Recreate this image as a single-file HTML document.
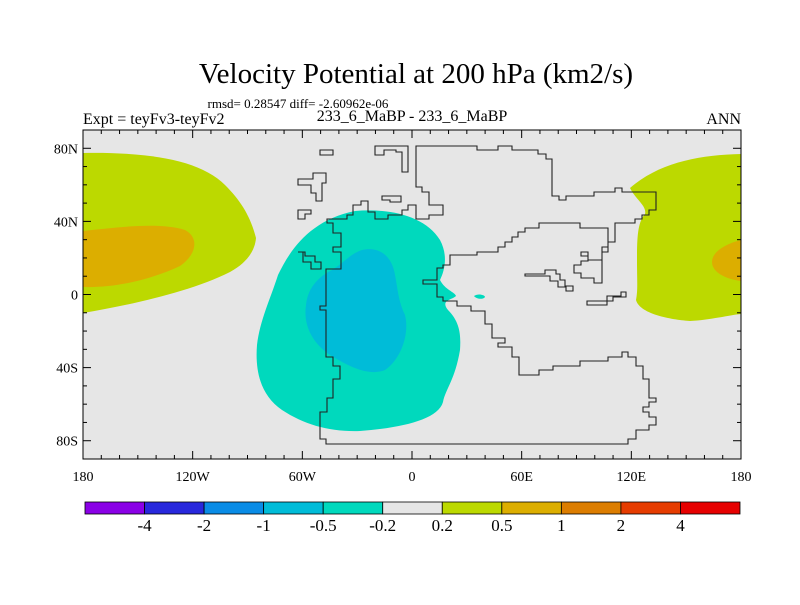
<!DOCTYPE html>
<html><head><meta charset="utf-8"><style>
body{margin:0;background:#fff;width:800px;height:600px;overflow:hidden}
svg text{font-family:"Liberation Serif",serif;fill:#000}
</style></head><body>
<svg id="chart" width="800" height="600" viewBox="0 0 800 600">
<text x="416" y="83" font-size="29" text-anchor="middle">Velocity Potential at 200 hPa (km2/s)</text>
<text x="298" y="108" font-size="13" text-anchor="middle">rmsd= 0.28547 diff= -2.60962e-06</text>
<text x="83" y="124" font-size="16">Expt = teyFv3-teyFv2</text>
<text x="412" y="121" font-size="16" text-anchor="middle">233_6_MaBP - 233_6_MaBP</text>
<text x="741" y="124" font-size="16" text-anchor="end">ANN</text>
<g>
<rect x="83" y="130" width="658" height="329" fill="#e6e6e6"/>
<clipPath id="mc"><rect x="83" y="130" width="658" height="329"/></clipPath>
<g clip-path="url(#mc)">
<path fill="#bcd900" d="M83,153 C150,152 200,160 225,185 C240,200 250,215 256,238 C255,250 248,262 230,272 C190,292 130,305 83,313 Z"/>
<path fill="#dcae00" d="M83,231 C120,227 160,222 185,230 C200,238 196,255 180,266 C150,280 115,288 83,287 Z"/>
<path fill="#bcd900" d="M741,154 C700,155 660,162 630,188 C636,200 647,206 645,214 C638,222 637,235 637,260 C637,280 638,290 636,300 C640,315 675,320 690,321 C710,320 730,315 741,314 Z"/>
<path fill="#dcae00" d="M741,240 C725,244 712,252 712,262 C712,272 725,279 741,281 Z"/>
<path fill="#00d9bd" d="M355,211 C390,208 425,216 440,240 C448,255 445,270 440,280 C445,290 455,292 456,296 C452,300 440,300 448,310 C460,322 461,335 460,350 C455,380 445,390 443,402 C438,420 400,428 360,431 C330,432 305,425 282,410 C260,395 255,370 257,345 C260,320 270,300 278,275 C290,250 310,220 355,211 Z"/>
<path fill="#00d9bd" d="M474,296 C478,293 485,295 485,297 C483,300 476,299 474,296 Z"/>
<path fill="#00bcd8" d="M362,250 C378,246 392,255 395,275 C398,290 398,300 405,315 C410,335 400,360 385,370 C370,376 352,368 335,358 C312,345 303,325 306,305 C308,285 322,275 332,270 C345,262 350,254 362,250 Z"/>
<g fill="none" stroke="#222" stroke-width="1.1">
<path d="M416,146 H477 V150 H498 V146 H512 V150 H538 V154 H546 V159 H552 V196 H559 V200 H566 V196 H594 V192 H615 V188 H622 V192 H656 V210 H649 V215 H642 V219 H635 V223 H615 V242 H608 V252 H602 V260 H588 V252 H581 V256 H588 V261 H581 V265 H574 V273 H581 V278 H594 V283 H602 V247 H608 V228 H580 V223 H539 V228 H525 V232 H518 V237 H512 V242 H505 V247 H498 V252 H477 V255 H450 V265 H443 V268 H437 V280 H423 V284 H437 V297 H443 V301 H457 V306 H471 V311 H485 V324 H492 V338 H505 V343 H498 V347 H512 V357 H519 V375 H539 V370 H553 V366 H580 V361 H608 V357 H622 V352 H628 V357 H636 V366 H643 V379 H649 V398 H656 V402 H649 V407 H643 V412 H649 V417 H656 V425 H649 V430 H636 V439 H628 V444 H326 V439 H320 V412 H327 V398 H333 V379 H340 V366 H333 V357 H326 V310 H320 V306 H326 V269 H341 V252 H333 V247 H341 V233 H333 V223 H327 V219 H347 V215 H353 V205 H361 V201 H368 V212 H375 V219 H388 V215 H402 V210 H408 V205 H416 V219 H429 V215 H443 V205 H429 V192 H422 V187 H416 Z"/>
<path d="M298,252 H303 V262 H311 V269 H321 V262 H315 V256 H305 V252 Z"/>
<path d="M320,150 H333 V155 H320 Z"/>
<path d="M375,146 H408 V172 H402 V152 H396 V150 H384 V155 H375 Z"/>
<path d="M298,179 H313 V173 H326 V183 H322 V201 H316 V193 H311 V185 H298 Z"/>
<path d="M298,210 H311 V214 H305 V219 H298 Z"/>
<path d="M382,196 H401 V202 H390 V200 H382 Z"/>
<path d="M525,274 H545 V270 H556 V274 H560 V280 H565 V286 H573 V291 H566 V287 H558 V281 H550 V276 H525 Z"/>
<path d="M587,301 H607 V296 H621 V292 H626 V297 H613 V301 H607 V305 H587 Z"/>
</g>
</g>
<rect x="83" y="130" width="658" height="329" fill="none" stroke="#000" stroke-width="1"/>
<g id="ticks" stroke="#000" stroke-width="1"></g>
<g id="ticklabels" font-size="14"></g>
</g>
<g id="colorbar"></g>
</svg>
<script>
const cbColors=["#8a00e6","#2828dc","#0a8ce6","#00bcd8","#00d9bd","#e6e6e6","#bcd900","#dcae00","#dc7d00","#e63c00","#e60000"];
const cbLabels=["-4","-2","-1","-0.5","-0.2","0.2","0.5","1","2","4"];
const lonTicks=[-180,-120,-60,0,60,120,180];
const lonTickLabels=["180","120W","60W","0","60E","120E","180"];
const latTicks=[80,40,0,-40,-80];
const latTickLabels=["80N","40N","0","40S","80S"];
const NS='http://www.w3.org/2000/svg';
const x0=83,x1=741,y0=130,y1=459;
function lx(lon){return x0+(lon+180)/360*(x1-x0);}
function ly(lat){return y0+(90-lat)/180*(y1-y0);}
function mk(tag,attrs,parent){const e=document.createElementNS(NS,tag);for(const k in attrs)e.setAttribute(k,attrs[k]);parent.appendChild(e);return e;}
const tg=document.getElementById('ticks'),tl=document.getElementById('ticklabels');
for(let lon=-180;lon<=180;lon+=10){const X=lx(lon);const len=lon%60===0?8:4;
 const a=mk('line',{x1:X,y1:y1,x2:X,y2:y1-len},tg);
 
 
 const b=mk('line',{x1:X,y1:y0,x2:X,y2:y0+len},tg);
 
 }
for(let lat=-90;lat<=90;lat+=10){const Y=ly(lat);const len=(lat%40===0&&Math.abs(lat)<=80)?8:4;
 const a=mk('line',{x1:x0,y1:Y,x2:x0+len,y2:Y},tg);
 
 
 const b=mk('line',{x1:x1,y1:Y,x2:x1-len,y2:Y},tg);
 
 }
lonTicks.forEach((v,i)=>{const t=mk('text',{x:lx(v),y:481,'text-anchor':'middle'},tl);t.textContent=lonTickLabels[i];
 
 });
latTicks.forEach((v,i)=>{const t=mk('text',{x:x0-5,y:ly(v)+5,'text-anchor':'end'},tl);t.textContent=latTickLabels[i];
 
 });
const cb=document.getElementById('colorbar');const cx0=85,cx1=740,cw=(cx1-cx0)/cbColors.length;
cbColors.forEach((c,i)=>{const r=mk('rect',{x:cx0+i*cw,y:502,width:cw,height:12,fill:c,stroke:'#000','stroke-width':0.8},cb);
 
 });
cbLabels.forEach((s,i)=>{const t=mk('text',{x:cx0+(i+1)*cw,y:531,'text-anchor':'middle','font-size':17},cb);t.textContent=s;
 
 });
</script>
</body></html>
